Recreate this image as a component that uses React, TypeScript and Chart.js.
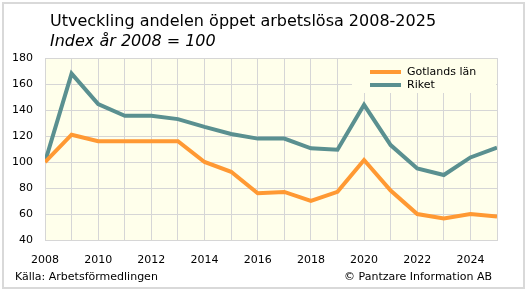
import React, { useEffect, useRef } from "react";
import { Chart, registerables } from "chart.js";

Chart.register(...registerables);

const years = [2008, 2009, 2010, 2011, 2012, 2013, 2014, 2015, 2016, 2017, 2018, 2019, 2020, 2021, 2022, 2023, 2024, 2025];
const gotland = [100, 121, 116, 116, 116, 116, 100, 92.5, 76, 77, 70, 77, 101.5, 78, 60, 56.5, 60, 58];
const riket = [100, 168, 144.5, 135.5, 135.5, 133, 127, 121.5, 118, 118, 110.5, 109.5, 144, 113, 95, 90, 103.5, 111];
const seriesNames = ["Gotlands län", "Riket"];
const titleText = "Utveckling andelen öppet arbetslösa 2008-2025";
const subtitleText = "Index år 2008 = 100";
const sourceText = "Källa: Arbetsförmedlingen";
const copyrightText = "© Pantzare Information AB";

const FONT = "'DejaVu Sans', Verdana, sans-serif";
const ORANGE = "#FF9933";
const TEAL = "#5A9090";
const PLOT_BG = "#FFFFEB";
const GRID = "#D6D6D6";

export default function App() {
  const ref = useRef<HTMLCanvasElement | null>(null);

  useEffect(() => {
    const canvas = ref.current;
    if (!canvas) return;

    const decor = {
      id: "decor",
      beforeDraw(chart: any) {
        const { ctx, chartArea } = chart;
        ctx.save();
        ctx.fillStyle = "#ffffff";
        ctx.fillRect(0, 0, chart.width, chart.height);
        ctx.strokeStyle = "#D9D9D9";
        ctx.lineWidth = 2;
        ctx.strokeRect(3, 3, 521, 285);
        ctx.fillStyle = PLOT_BG;
        ctx.fillRect(chartArea.left, chartArea.top, chartArea.right - chartArea.left, chartArea.bottom - chartArea.top);
        ctx.restore();
      },
      beforeDatasetsDraw(chart: any) {
        const { ctx, chartArea } = chart;
        ctx.save();
        const boxRight = chartArea.right;
        const boxLeft = boxRight - 145;
        ctx.fillStyle = PLOT_BG;
        ctx.fillRect(boxLeft, chartArea.top + 1, boxRight - boxLeft - 1, 34);
        ctx.font = `11px ${FONT}`;
        ctx.textBaseline = "middle";
        ctx.textAlign = "left";
        chart.data.datasets.forEach((ds: any, i: number) => {
          const y = chartArea.top + 14 + i * 13;
          ctx.strokeStyle = ds.borderColor;
          ctx.lineWidth = 4;
          ctx.beginPath();
          ctx.moveTo(boxLeft + 18, y);
          ctx.lineTo(boxLeft + 49, y);
          ctx.stroke();
          ctx.fillStyle = "#000";
          ctx.fillText(ds.label, boxLeft + 55, y);
        });
        ctx.restore();
      },
      afterDraw(chart: any) {
        const { ctx } = chart;
        ctx.save();
        ctx.fillStyle = "#000";
        ctx.textAlign = "left";
        ctx.textBaseline = "alphabetic";
        ctx.font = `16px ${FONT}`;
        ctx.fillText(titleText, 50, 26);
        ctx.font = `italic 16px ${FONT}`;
        ctx.fillText(subtitleText, 50, 46);
        ctx.font = `11px ${FONT}`;
        ctx.textBaseline = "middle";
        ctx.fillText(sourceText, 15, 277);
        ctx.textAlign = "right";
        ctx.fillText(copyrightText, 492, 277);
        ctx.restore();
      },
    };

    const chart = new Chart(canvas, {
      type: "line",
      data: {
        datasets: [
          {
            label: seriesNames[0],
            data: years.map((y, i) => ({ x: y, y: gotland[i] })),
            borderColor: ORANGE,
            backgroundColor: ORANGE,
            borderWidth: 4,
            pointRadius: 0,
            tension: 0,
            borderJoinStyle: "miter",
          },
          {
            label: seriesNames[1],
            data: years.map((y, i) => ({ x: y, y: riket[i] })),
            borderColor: TEAL,
            backgroundColor: TEAL,
            borderWidth: 4,
            pointRadius: 0,
            tension: 0,
            borderJoinStyle: "miter",
          },
        ],
      },
      options: {
        responsive: false,
        animation: false,
        layout: { padding: { left: 0, top: 58, right: 31, bottom: 0 } },
        plugins: {
          legend: { display: false },
          title: { display: false },
          tooltip: { enabled: false },
        },
        scales: {
          x: {
            type: "linear",
            min: years[0],
            max: years[years.length - 1],
            afterFit(scale: any) {
              scale.height = 53;
            },
            afterBuildTicks(scale: any) {
              scale.ticks = years.map((v) => ({ value: v }));
            },
            ticks: {
              autoSkip: false,
              maxRotation: 0,
              padding: 14,
              color: "#000",
              font: { family: FONT, size: 11 },
              callback: (v: any) => (Number(v) % 2 === 0 && Number(v) < 2025 ? String(v) : ""),
            },
            grid: { color: GRID, drawTicks: false, lineWidth: 1 },
            border: { color: GRID, width: 1 },
          },
          y: {
            min: 40,
            max: 180,
            afterFit(scale: any) {
              scale.width = 45;
            },
            ticks: {
              stepSize: 20,
              padding: 12,
              color: "#000",
              font: { family: FONT, size: 11 },
            },
            grid: { color: GRID, drawTicks: false, lineWidth: 1 },
            border: { color: GRID, width: 1 },
          },
        },
      },
      plugins: [decor],
    } as any);

    return () => chart.destroy();
  }, []);

  return (
    <div style={{ position: "fixed", left: 0, top: 0, width: 528, height: 293 }}>
      <canvas ref={ref} width={528} height={293} style={{ display: "block" }} />
    </div>
  );
}
